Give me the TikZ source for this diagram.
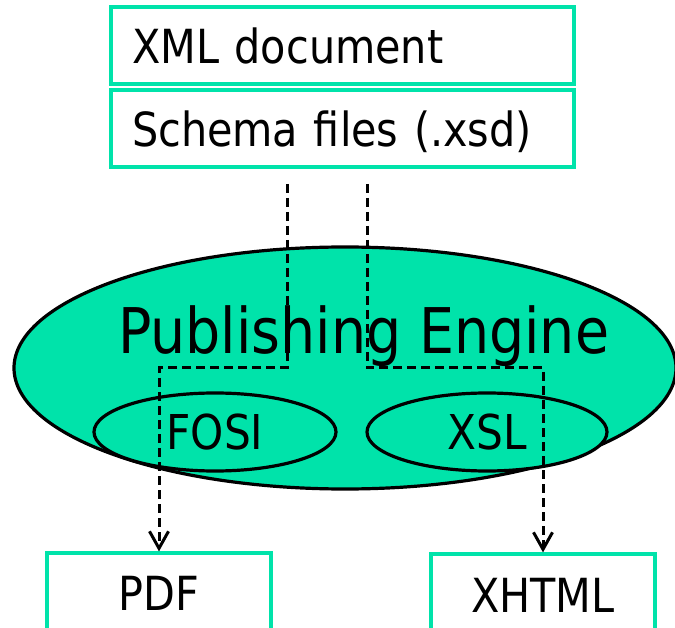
\documentclass[tikz,border=0pt]{standalone}
\usepackage{fontspec}
\setmainfont[FakeStretch=0.88]{DejaVu Sans}
\usetikzlibrary{shapes.geometric,arrows.meta}
\definecolor{mint}{RGB}{0,227,170}

\begin{document}
\begin{tikzpicture}[x=1pt,y=-1pt,
	box/.style={draw=mint,line width=3.2pt,inner sep=0pt,text height=37pt,text depth=0pt,font=\fontsize{47}{50}\selectfont},
	blob/.style={ellipse,draw,fill=mint,line width=3.2pt,inner sep=0pt},
	flow/.style={dash pattern=on 9pt off 5pt,-{Straight Barb[length=17pt,width=19pt]}}]
	\useasboundingbox (0,0) rectangle (675,628);
	\node[box,text width=421pt,inner xsep=21pt,minimum height=77pt,align=left] (xmldoc) at (342.5,45.5) {XML document};
	\node[box,text width=421pt,inner xsep=21pt,minimum height=77pt,align=left] (schema) at (342.5,128.5) {Schema files (.xsd)};
	\node[blob,minimum width=662pt,minimum height=242pt] (engine) at (345,368) {};
	\node[font=\fontsize{63}{66}\selectfont,text height=46pt,text depth=0pt,inner sep=0pt] (title) at (363.5,330.5) {Publishing Engine};
	\node[blob,minimum width=242pt,minimum height=78pt,font=\fontsize{48}{50}\selectfont,text height=35pt,text depth=0pt] (fosi) at (215,432) {FOSI};
	\node[blob,minimum width=240pt,minimum height=78pt,font=\fontsize{48}{50}\selectfont,text height=35pt,text depth=0pt] (xsl) at (487,432) {XSL};
	\node[box,minimum width=224pt,minimum height=79pt,text height=35pt] (pdf) at (159,592.5) {PDF};
	\node[box,minimum width=224pt,minimum height=81pt,text height=35pt] (xhtml) at (543,594.5) {XHTML};
	\coordinate (leftin) at (287,184);
	\coordinate (rightin) at (367,184);
	\draw[flow,line width=3pt] (leftin) -- ++(0,184) -| (pdf.north);
	\draw[flow,line width=3pt] (rightin) -- ++(0,184) -| (xhtml.north);
\end{tikzpicture}
\end{document}
